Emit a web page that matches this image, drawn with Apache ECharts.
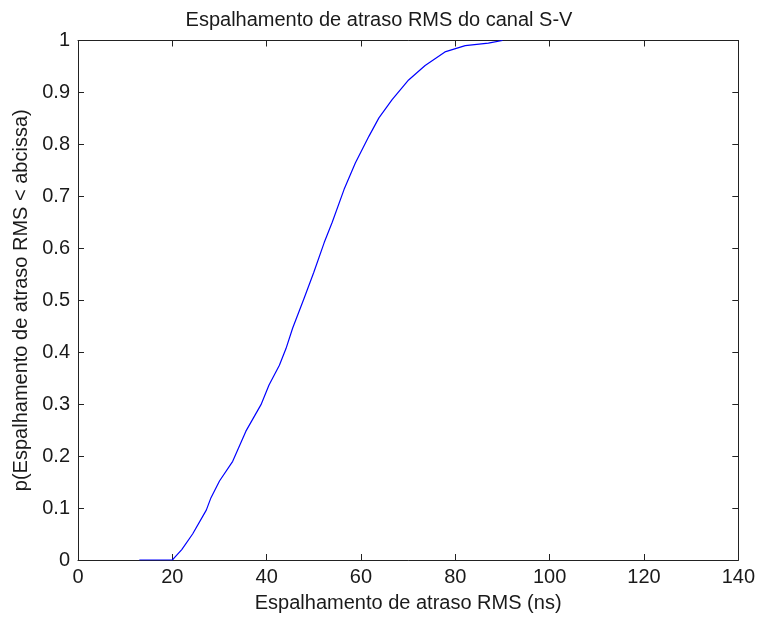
<!DOCTYPE html>
<html>
<head>
<meta charset="utf-8">
<script src="https://cdn.jsdelivr.net/npm/echarts@6/dist/echarts.min.js"></script>
<style>html,body{margin:0;padding:0;background:#fff;}#c{width:758px;height:618px;}</style>
</head>
<body>
<div id="c"></div>
<script>
const titleText = "Espalhamento de atraso RMS do canal S-V";
const xName = "Espalhamento de atraso RMS (ns)";
const yName = "p(Espalhamento de atraso RMS < abcissa)";
const delayNs = [13, 20, 20.5, 22, 24.3, 27.2, 28.2, 30, 32.8, 35.6, 38.8, 40.5, 42.7, 44.1, 45.5, 47.9, 50, 52.2, 53.9, 56.4, 58.8, 61.7, 63.8, 66.6, 70.1, 73.6, 77.8, 82.1, 87, 90];
const cdfValues = [0, 0, 0.005, 0.02, 0.05, 0.096, 0.12, 0.152, 0.19, 0.248, 0.299, 0.337, 0.375, 0.407, 0.446, 0.503, 0.554, 0.611, 0.65, 0.713, 0.764, 0.816, 0.851, 0.886, 0.924, 0.952, 0.978, 0.990, 0.995, 1.0];

const font = "'Liberation Sans', Arial, sans-serif";
const textColor = '#1a1a1a';
const lineStyle = {color: '#222', width: 1};
const chart = echarts.init(document.getElementById('c'), null, {renderer: 'canvas'});
const baseAxis = {
  axisLine: {show: true, onZero: false, lineStyle: lineStyle},
  axisTick: {show: true, inside: true, length: 6, lineStyle: lineStyle},
  splitLine: {show: false}
};
chart.setOption({
  animation: false,
  backgroundColor: '#fff',
  title: {text: titleText, left: 'center', top: 5,
    textStyle: {fontFamily: font, fontSize: 20, fontWeight: 'normal', color: textColor}},
  grid: {left: 78, right: 17, top: 40.5, bottom: 55, containLabel: false},
  xAxis: [
    Object.assign({}, baseAxis, {type: 'value', min: 0, max: 140, interval: 20, position: 'bottom',
      name: xName, nameLocation: 'middle', nameGap: 33,
      nameTextStyle: {fontFamily: font, fontSize: 20, color: textColor},
      axisLabel: {fontFamily: font, fontSize: 20, color: textColor, margin: 7}}),
    Object.assign({}, baseAxis, {type: 'value', min: 0, max: 140, interval: 20, position: 'top',
      axisLabel: {show: false}})
  ],
  yAxis: [
    Object.assign({}, baseAxis, {type: 'value', min: 0, max: 1, interval: 0.1, position: 'left',
      name: yName, nameLocation: 'middle', nameGap: 44,
      nameTextStyle: {fontFamily: font, fontSize: 20, color: textColor},
      axisLabel: {fontFamily: font, fontSize: 20, color: textColor, margin: 8,
        formatter: v => (Math.round(v*10)/10).toString()}}),
    Object.assign({}, baseAxis, {type: 'value', min: 0, max: 1, interval: 0.1, position: 'right',
      axisLabel: {show: false}})
  ],
  series: [{
    type: 'line', xAxisIndex: 0, yAxisIndex: 0,
    data: delayNs.map((x, i) => [x, cdfValues[i]]),
    showSymbol: false, smooth: false,
    lineStyle: {color: '#0000ff', width: 1.2}
  }]
});
</script>
</body>
</html>
